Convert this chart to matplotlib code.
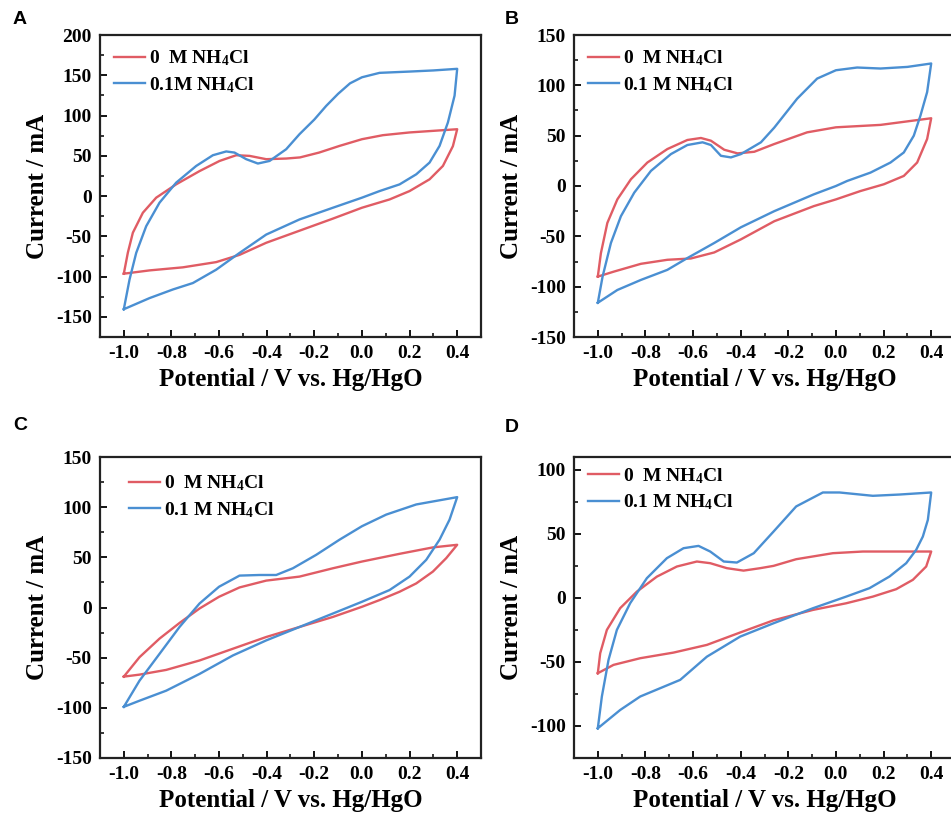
import matplotlib
matplotlib.use("Agg")
import matplotlib.pyplot as plt

plt.rcParams['font.family'] = ['Liberation Serif', 'DejaVu Serif']
plt.rcParams['font.weight'] = 'bold'
plt.rcParams['axes.unicode_minus'] = False
plt.rcParams['mathtext.fontset'] = 'custom'
plt.rcParams['mathtext.rm'] = 'Liberation Serif:bold'
plt.rcParams['mathtext.bf'] = 'Liberation Serif:bold'
plt.rcParams['mathtext.it'] = 'Liberation Serif:italic:bold'

RED = '#e05c64'
BLUE = '#4a8fd2'

# ---- panel A ----
a_red_up_x = [-1.0, -0.983, -0.962, -0.92, -0.864, -0.78, -0.682, -0.598, -0.528, -0.472, -0.402, -0.318, -0.26, -0.18, -0.094, 0.0, 0.088, 0.2, 0.3, 0.4]
a_red_up_y = [-96.4, -70.2, -45.5, -20.7, -2, 14.6, 31, 43.6, 50.7, 49.9, 45.8, 46.6, 48, 54, 62.3, 70.6, 75.6, 79, 81, 83]
a_red_dn_x = [0.4, 0.382, 0.34, 0.284, 0.2, 0.116, 0.0, -0.122, -0.262, -0.402, -0.514, -0.612, -0.752, -0.892, -1.0]
a_red_dn_y = [83, 62, 37.4, 20.8, 6.2, -4.2, -14.5, -28, -43, -58, -73, -82, -88.5, -92.3, -96.4]
a_blue_up_x = [-1.0, -0.976, -0.948, -0.906, -0.85, -0.78, -0.696, -0.626, -0.57, -0.535, -0.486, -0.437, -0.388, -0.318, -0.262, -0.2, -0.15, -0.1, -0.05, 0.0, 0.074, 0.2, 0.3, 0.4]
a_blue_up_y = [-140.5, -103.7, -70.6, -37.4, -8.2, 16.7, 37.4, 50.7, 55.4, 54, 45.8, 40.4, 43.6, 58.2, 76.9, 95, 112, 127, 140, 147.5, 153, 154.6, 156, 158]
a_blue_dn_x = [0.4, 0.389, 0.361, 0.326, 0.284, 0.228, 0.158, 0.074, 0.0, -0.122, -0.262, -0.402, -0.514, -0.612, -0.71, -0.794, -0.892, -1.0]
a_blue_dn_y = [158, 124.7, 91.4, 62.3, 41.6, 27, 14.5, 6.2, -2, -14.5, -29, -47.8, -70.6, -91.4, -108, -116, -126.7, -140.5]

# ---- panel B ----
b_red_up_x = [-1.0, -0.987, -0.96, -0.918, -0.861, -0.792, -0.708, -0.624, -0.567, -0.525, -0.469, -0.413, -0.343, -0.259, -0.121, 0.0, 0.187, 0.4]
b_red_up_y = [-90, -66.7, -36.7, -13.3, 6.7, 23.3, 36.7, 45.7, 47.7, 45, 36, 32.4, 34, 41.7, 53.3, 58.3, 60.7, 67.3]
b_red_dn_x = [0.4, 0.383, 0.341, 0.285, 0.201, 0.103, 0.0, -0.093, -0.259, -0.399, -0.511, -0.609, -0.708, -0.819, -0.932, -1.0]
b_red_dn_y = [67.3, 46.7, 23.3, 10, 1.7, -5, -13.3, -20, -35, -53, -66, -72, -73.3, -77.3, -85, -90]
b_blue_up_x = [-1.0, -0.98, -0.945, -0.903, -0.847, -0.777, -0.693, -0.624, -0.56, -0.525, -0.483, -0.441, -0.399, -0.315, -0.259, -0.163, -0.079, 0.0, 0.089, 0.187, 0.3, 0.4]
b_blue_up_y = [-116, -90, -56.6, -30, -6.6, 15, 31.7, 40.7, 43.4, 40.7, 30, 28.4, 31.7, 43.4, 58, 86.7, 106.7, 115, 117.7, 116.7, 118.3, 121.7]
b_blue_dn_x = [0.4, 0.383, 0.355, 0.327, 0.285, 0.229, 0.145, 0.047, 0.0, -0.093, -0.259, -0.399, -0.511, -0.624, -0.708, -0.819, -0.918, -1.0]
b_blue_dn_y = [121.7, 93.3, 70, 50, 33.3, 23.3, 13.3, 5, 0, -8.3, -25, -41, -56.6, -71.6, -83.3, -93.3, -103.3, -116]

# ---- panel C ----
c_red_up_x = [-1.0, -0.934, -0.85, -0.766, -0.682, -0.6, -0.514, -0.402, -0.262, -0.122, 0.0, 0.158, 0.298, 0.4]
c_red_up_y = [-68.9, -49.5, -31, -15.4, -1, 10.7, 20, 26.8, 30.8, 39.1, 45.8, 53.5, 59.9, 62.5]
c_red_dn_x = [0.4, 0.354, 0.298, 0.228, 0.158, 0.074, 0.0, -0.122, -0.262, -0.402, -0.542, -0.682, -0.822, -0.934, -1.0]
c_red_dn_y = [62.5, 49.2, 35.8, 24, 15.7, 7.4, 0.7, -9.4, -19.4, -29.4, -41.1, -52.8, -62.2, -66.9, -68.9]
c_blue_up_x = [-1.0, -0.934, -0.85, -0.766, -0.682, -0.6, -0.514, -0.43, -0.36, -0.29, -0.192, -0.094, 0.0, 0.102, 0.228, 0.4]
c_blue_up_y = [-99, -72.9, -46.2, -19.4, 4, 20.7, 31.8, 32.4, 32.4, 39.1, 52.5, 67.6, 81, 92.6, 102.7, 110]
c_blue_dn_x = [0.4, 0.368, 0.326, 0.27, 0.2, 0.116, 0.0, -0.122, -0.262, -0.402, -0.542, -0.682, -0.822, -0.934, -1.0]
c_blue_dn_y = [110, 87.6, 67.6, 47.5, 30.8, 17.4, 5.7, -6, -19.4, -32.8, -47.8, -66.2, -82.9, -92.9, -99]

# ---- panel D ----
d_red_up_x = [-1.0, -0.99, -0.962, -0.906, -0.836, -0.752, -0.668, -0.584, -0.528, -0.458, -0.388, -0.318, -0.262, -0.167, -0.013, 0.113, 0.4]
d_red_up_y = [-58.8, -43.2, -25, -8, 4.9, 16.6, 24.5, 28.4, 27.1, 23.2, 21.3, 23.2, 25, 30.2, 34.9, 36.2, 36.2]
d_red_dn_x = [0.4, 0.379, 0.323, 0.253, 0.155, 0.043, -0.097, -0.262, -0.402, -0.542, -0.682, -0.822, -0.934, -1.0]
d_red_dn_y = [36.2, 24.5, 14.1, 6.8, 1, -4.2, -9.4, -17.5, -27, -36.7, -42.7, -47.1, -52.3, -58.8]
d_blue_up_x = [-1.0, -0.983, -0.955, -0.92, -0.864, -0.794, -0.71, -0.64, -0.577, -0.528, -0.471, -0.416, -0.345, -0.262, -0.167, -0.055, 0.015, 0.155, 0.267, 0.4]
d_blue_up_y = [-101.8, -77, -48.4, -25, -4.1, 15.4, 31, 38.8, 40.6, 36.2, 28.4, 27.6, 34.9, 51.8, 71.4, 82.3, 82.3, 79.7, 80.7, 82.3]
d_blue_dn_x = [0.4, 0.386, 0.365, 0.337, 0.295, 0.225, 0.141, 0.043, -0.097, -0.262, -0.402, -0.542, -0.654, -0.738, -0.822, -0.906, -1.0]
d_blue_dn_y = [82.3, 60.9, 47.9, 37.5, 27.1, 16.7, 7.6, 1, -8.1, -19.8, -30.2, -45.9, -64, -70.5, -77, -87.5, -101.8]

x_ticks = [-1.0, -0.8, -0.6, -0.4, -0.2, 0.0, 0.2, 0.4]

fig = plt.figure(figsize=(9.51, 8.16), dpi=100)
W, H = 951.0, 816.0


def make_axes(left, top, bottom, width=381.0):
    return fig.add_axes([left / W, 1 - bottom / H, width / W, (bottom - top) / H])


def draw(ax, red, blue, ylim, yticks, labels, leg_anchor):
    ax.plot(red[0] + red[2], red[1] + red[3], color=RED, lw=1.7, label=labels[0],
            solid_joinstyle='round')
    ax.plot(blue[0] + blue[2], blue[1] + blue[3], color=BLUE, lw=1.7, label=labels[1],
            solid_joinstyle='round')
    ax.set_xlim(-1.1, 0.5)
    ax.set_ylim(*ylim)
    ax.set_xticks(x_ticks)
    ax.set_xticklabels(['%.1f' % t for t in x_ticks])
    ax.set_yticks(yticks)
    ax.set_xticks([-0.9, -0.7, -0.5, -0.3, -0.1, 0.1, 0.3], minor=True)
    ax.set_yticks([t + 25 for t in yticks[:-1]], minor=True)
    ax.tick_params(which='major', direction='in', length=5, width=1.3, labelsize=14, pad=6)
    ax.tick_params(which='minor', direction='in', length=3, width=1.1)
    for s in ax.spines.values():
        s.set_linewidth(1.6)
        s.set_color('#222222')
    ax.set_xlabel('Potential / V vs. Hg/HgO', fontsize=18, fontweight='bold', labelpad=4)
    ax.set_ylabel('Current / mA', fontsize=18, fontweight='bold', labelpad=5)
    ax.legend(loc='upper left', bbox_to_anchor=leg_anchor, frameon=False, fontsize=14,
              handlelength=1.6, handletextpad=0.2, labelspacing=0.35, borderaxespad=0.3)


axA = make_axes(100, 35, 337)
draw(axA, (a_red_up_x, a_red_up_y, a_red_dn_x, a_red_dn_y),
     (a_blue_up_x, a_blue_up_y, a_blue_dn_x, a_blue_dn_y),
     (-175, 200), [-150, -100, -50, 0, 50, 100, 150, 200],
     ['0  M NH$_4$Cl', '0.1M NH$_4$Cl'], (0.0, 1.0))

axB = make_axes(574, 35, 337)
draw(axB, (b_red_up_x, b_red_up_y, b_red_dn_x, b_red_dn_y),
     (b_blue_up_x, b_blue_up_y, b_blue_dn_x, b_blue_dn_y),
     (-150, 150), [-150, -100, -50, 0, 50, 100, 150],
     ['0  M NH$_4$Cl', '0.1 M NH$_4$Cl'], (0.0, 1.0))

axC = make_axes(100, 457, 758)
draw(axC, (c_red_up_x, c_red_up_y, c_red_dn_x, c_red_dn_y),
     (c_blue_up_x, c_blue_up_y, c_blue_dn_x, c_blue_dn_y),
     (-150, 150), [-150, -100, -50, 0, 50, 100, 150],
     ['0  M NH$_4$Cl', '0.1 M NH$_4$Cl'], (0.04, 0.99))

axD = make_axes(574, 457, 758)
draw(axD, (d_red_up_x, d_red_up_y, d_red_dn_x, d_red_dn_y),
     (d_blue_up_x, d_blue_up_y, d_blue_dn_x, d_blue_dn_y),
     (-125, 110), [-100, -50, 0, 50, 100],
     ['0  M NH$_4$Cl', '0.1 M NH$_4$Cl'], (0.0, 1.015))

for lab, (px, py) in zip('ABCD', [(13, 20), (505, 20), (13, 425), (505, 427)]):
    fig.text(px / W, 1 - py / H, lab, fontsize=14, fontweight='bold',
             family=['Liberation Sans', 'DejaVu Sans'], ha='left', va='center')

fig.savefig('out.png', dpi=100)
